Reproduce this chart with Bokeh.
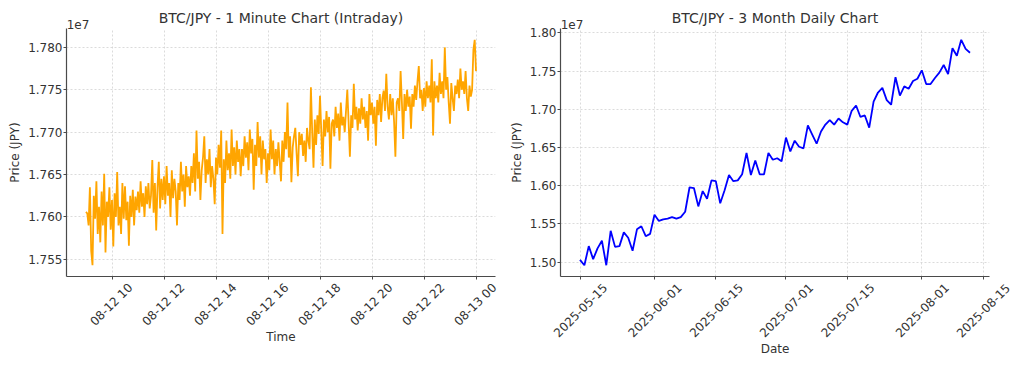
import numpy as np
import pandas as pd
from math import pi
from bokeh.plotting import figure
from bokeh.layouts import row
from bokeh.core.properties import value
from bokeh.models import (Range1d, FixedTicker, PrintfTickFormatter, LinearAxis,
                          ColumnDataSource, CustomLabelingPolicy)
from bokeh.embed import file_html
from bokeh.resources import INLINE

# ---------------- data ----------------
intraday_start = "2025-08-12 09:00"
intraday_step_min = 3
# price in thousands of JPY, one value every 3 minutes
intraday_price_k = [
    17606, 17604, 17590, 17635, 17560, 17543, 17625, 17598, 17642, 17580,
    17612, 17570, 17630, 17590, 17651, 17558, 17618, 17600, 17635, 17585,
    17620, 17565, 17628, 17600, 17653, 17590, 17612, 17580, 17640, 17598,
    17636, 17596, 17618, 17566, 17625, 17600, 17632, 17590, 17624, 17608,
    17630, 17605, 17642, 17612, 17628, 17600, 17636, 17615, 17640, 17610,
    17625, 17667, 17605, 17640, 17584, 17635, 17665, 17610, 17645, 17620,
    17648, 17615, 17660, 17625, 17640, 17600, 17655, 17622, 17645, 17630,
    17590, 17640, 17620, 17665, 17630, 17650, 17612, 17660, 17635, 17648,
    17625, 17660, 17640, 17675, 17630, 17702, 17645, 17665, 17620, 17655,
    17670, 17695, 17640, 17668, 17650, 17680, 17635, 17660, 17645, 17615,
    17670, 17650, 17685, 17658, 17702, 17580, 17668, 17640, 17690, 17655,
    17675, 17645, 17703, 17660, 17682, 17650, 17690, 17665, 17680, 17648,
    17680, 17660, 17695, 17670, 17688, 17655, 17703, 17675, 17692, 17632,
    17685, 17660, 17712, 17670, 17695, 17650, 17690, 17668, 17680, 17640,
    17675, 17655, 17703, 17668, 17690, 17650, 17680, 17660, 17688, 17665,
    17642, 17690, 17665, 17700, 17680, 17735, 17670, 17695, 17641, 17682,
    17695, 17705, 17675, 17648, 17700, 17685, 17698, 17672, 17690, 17665,
    17705, 17690, 17680, 17753, 17700, 17658, 17715, 17685, 17720, 17698,
    17743, 17700, 17660, 17715, 17695, 17725, 17700, 17718, 17657, 17710,
    17715, 17695, 17730, 17705, 17722, 17690, 17735, 17708, 17718, 17700,
    17725, 17750, 17712, 17671, 17720, 17705, 17757, 17715, 17730, 17702,
    17728, 17710, 17740, 17715, 17730, 17705, 17725, 17690, 17745, 17720,
    17735, 17710, 17730, 17684, 17738, 17720, 17745, 17712, 17740, 17749,
    17725, 17769, 17730, 17715, 17745, 17720, 17740, 17712, 17671, 17735,
    17740, 17725, 17772, 17735, 17692, 17745, 17725, 17750, 17730, 17742,
    17704, 17745, 17730, 17755, 17738, 17760, 17778, 17740, 17750, 17725,
    17752, 17730, 17760, 17740, 17755, 17735, 17786, 17696, 17760, 17740,
    17755, 17735, 17770, 17745, 17760, 17740, 17800, 17750, 17765, 17735,
    17710, 17758, 17740, 17725, 17755, 17745, 17762, 17740, 17775, 17750,
    17760, 17745, 17772, 17740, 17725, 17755, 17742, 17750, 17797, 17809,
    17772,
]
intraday_tick_times = ["2025-08-12 10:00", "2025-08-12 12:00", "2025-08-12 14:00",
                       "2025-08-12 16:00", "2025-08-12 18:00", "2025-08-12 20:00",
                       "2025-08-12 22:00", "2025-08-13 00:00"]
intraday_tick_labels = ["08-12 10", "08-12 12", "08-12 14", "08-12 16",
                        "08-12 18", "08-12 20", "08-12 22", "08-13 00"]
intraday_yticks = [1.755, 1.760, 1.765, 1.770, 1.775, 1.780]

daily_start = "2025-05-15"
# daily close, in units of 1e7 JPY
daily_price_1e7 = [
    1.503, 1.496, 1.521, 1.504, 1.518, 1.528, 1.496, 1.541, 1.520, 1.521,
    1.539, 1.532, 1.515, 1.543, 1.547, 1.534, 1.537,
    1.562, 1.554, 1.556, 1.557, 1.559, 1.557, 1.559, 1.566, 1.598, 1.597,
    1.573, 1.593, 1.583, 1.607, 1.606, 1.577, 1.594, 1.614, 1.606, 1.607,
    1.615, 1.643, 1.614, 1.633, 1.615, 1.615, 1.643, 1.634, 1.636, 1.632,
    1.663, 1.645, 1.659, 1.651, 1.649, 1.679, 1.667, 1.655, 1.671, 1.680,
    1.686, 1.680, 1.688, 1.683, 1.680, 1.698, 1.705, 1.690, 1.692, 1.676,
    1.710, 1.722, 1.728, 1.712, 1.706, 1.742, 1.718, 1.730, 1.727, 1.737,
    1.740,
    1.751, 1.733, 1.733, 1.741, 1.748, 1.758, 1.746, 1.780, 1.770, 1.791,
    1.779, 1.774,
]
daily_tick_dates = ["2025-05-15", "2025-06-01", "2025-06-15", "2025-07-01",
                    "2025-07-15", "2025-08-01", "2025-08-15"]
daily_tick_labels = list(daily_tick_dates)
daily_yticks = [1.50, 1.55, 1.60, 1.65, 1.70, 1.75, 1.80]

SCALE = 1e7
FONT = "DejaVu Sans"
TXT = "#333333"
SPINE = "#4a4a4a"
GRID = "#d2d2d2"
HEIGHT = 366
BT, BB = 28, 90


def ms(ts):
    return pd.Timestamp(ts).value / 1e6


def style_text(ax, size="12px"):
    ax.major_label_text_font = FONT
    ax.major_label_text_font_size = size
    ax.major_label_text_color = TXT
    ax.axis_label_text_font = FONT
    ax.axis_label_text_font_size = "12px"
    ax.axis_label_text_font_style = "normal"
    ax.axis_label_text_color = TXT


def hidden_line(ax):
    ax.axis_line_color = None
    ax.major_tick_line_color = None
    ax.minor_tick_line_color = None
    ax.major_tick_out = 0
    ax.major_tick_in = 0
    ax.minor_tick_out = 0
    ax.minor_tick_in = 0


def panel(x_ms, y, color, title, xlabel, tick_ms, tick_labels, yticks, yfmt,
          width, bl, br, label_shift_px, label_standoff, xlabel_standoff,
          ylabel_standoff, overlay_dy):
    x0, x1 = float(np.min(x_ms)), float(np.max(x_ms))
    xp = 0.05 * (x1 - x0)
    y0, y1 = float(np.min(y)), float(np.max(y))
    yp = 0.05 * (y1 - y0)
    xr = Range1d(x0 - xp, x1 + xp)
    yr = Range1d(y0 - yp, y1 + yp)
    fw = width - bl - br
    px_ms = (xr.end - xr.start) / fw
    p = figure(width=width, height=HEIGHT, x_axis_type="datetime",
               x_range=xr, y_range=yr, output_backend="svg",
               toolbar_location=None, title=None,
               min_border_left=bl, min_border_right=br,
               min_border_top=BT, min_border_bottom=BB)
    p.outline_line_color = None
    p.background_fill_color = "white"
    p.border_fill_color = "white"

    src = ColumnDataSource(dict(x=x_ms, y=y))
    p.line("x", "y", source=src, line_color=color, line_width=1.8)

    # main x axis: spine + tick marks (labels drawn separately)
    xa = p.xaxis[0]
    xa.ticker = FixedTicker(ticks=list(tick_ms), minor_ticks=[])
    xa.major_label_policy = CustomLabelingPolicy(code="return new Set()")
    xa.major_label_standoff = 0
    ya = p.yaxis[0]
    ya.ticker = FixedTicker(ticks=list(yticks), minor_ticks=[])
    ya.formatter = PrintfTickFormatter(format=yfmt)
    ya.major_label_standoff = 1
    ya.axis_label = "Price (JPY)"
    ya.axis_label_standoff = ylabel_standoff
    for ax in (xa, ya):
        ax.axis_line_color = SPINE
        ax.axis_line_width = 1.2
        ax.major_tick_line_color = SPINE
        ax.major_tick_in = 0
        ax.major_tick_out = 3
        ax.minor_tick_out = 0
        ax.minor_tick_in = 0
        style_text(ax)

    # rotated tick labels, centred under their ticks; labels whose shifted
    # anchor would fall outside the frame are drawn as overlay text glyphs
    shift = label_shift_px * px_ms
    in_t, in_l, out_t, out_l = [], [], [], []
    for t, s in zip(tick_ms, tick_labels):
        if t + shift <= xr.end - 0.5 * px_ms:
            in_t.append(t + shift)
            in_l.append(s)
        else:
            out_t.append(t)
            out_l.append(s)
    la = LinearAxis(ticker=FixedTicker(ticks=in_t, minor_ticks=[]),
                    major_label_overrides={lt: s for lt, s in zip(in_t, in_l)},
                    major_label_orientation=pi / 4,
                    major_label_standoff=label_standoff,
                    axis_label=xlabel, axis_label_standoff=xlabel_standoff)
    hidden_line(la)
    style_text(la)
    p.add_layout(la, "below")
    if out_t:
        osrc = ColumnDataSource(dict(x=out_t, y=[yr.start] * len(out_t), text=out_l))
        p.text("x", "y", text="text", source=osrc, angle=pi / 4,
               text_align="center", text_baseline="middle",
               text_font=value(FONT), text_font_size=value("12px"),
               text_color=TXT, y_offset=overlay_dy, level="overlay")

    # title and exponent text above the frame
    t1e7 = xr.start + 11.5 * px_ms
    ta = LinearAxis(ticker=FixedTicker(ticks=[t1e7], minor_ticks=[]),
                    major_label_overrides={t1e7: "1e7"},
                    major_label_standoff=0,
                    axis_label=title, axis_label_standoff=-9)
    hidden_line(ta)
    style_text(ta)
    ta.axis_label_text_font_size = "14px"
    p.add_layout(ta, "above")

    for g in (p.xgrid, p.ygrid):
        g.grid_line_color = GRID
        g.grid_line_dash = "2 2"
        g.grid_line_width = 0.8
    return p


# intraday
ix = pd.date_range(intraday_start, periods=len(intraday_price_k),
                   freq=f"{intraday_step_min}min")
ix_ms = (ix.values.astype("datetime64[ms]").astype("int64")).astype(float)
iy = np.array(intraday_price_k, dtype=float) * 1000.0 / SCALE
left = panel(ix_ms, iy, "orange", "BTC/JPY - 1 Minute Chart (Intraday)", "Time",
             [ms(t) for t in intraday_tick_times], intraday_tick_labels,
             intraday_yticks, "%.3f", width=500, bl=66, br=5,
             label_shift_px=18.5, label_standoff=-28, xlabel_standoff=-7,
             ylabel_standoff=3, overlay_dy=27)

# daily
dx = pd.date_range(daily_start, periods=len(daily_price_1e7), freq="D")
dx_ms = (dx.values.astype("datetime64[ms]").astype("int64")).astype(float)
dy = np.array(daily_price_1e7, dtype=float)
right = panel(dx_ms, dy, "blue", "BTC/JPY - 3 Month Daily Chart", "Date",
              [ms(t) for t in daily_tick_dates], daily_tick_labels,
              daily_yticks, "%.2f", width=524, bl=60, br=35,
              label_shift_px=25, label_standoff=-28, xlabel_standoff=-2,
              ylabel_standoff=3, overlay_dy=34)

layout = row(left, right)
open("out.html", "w").write(file_html(layout, INLINE))
